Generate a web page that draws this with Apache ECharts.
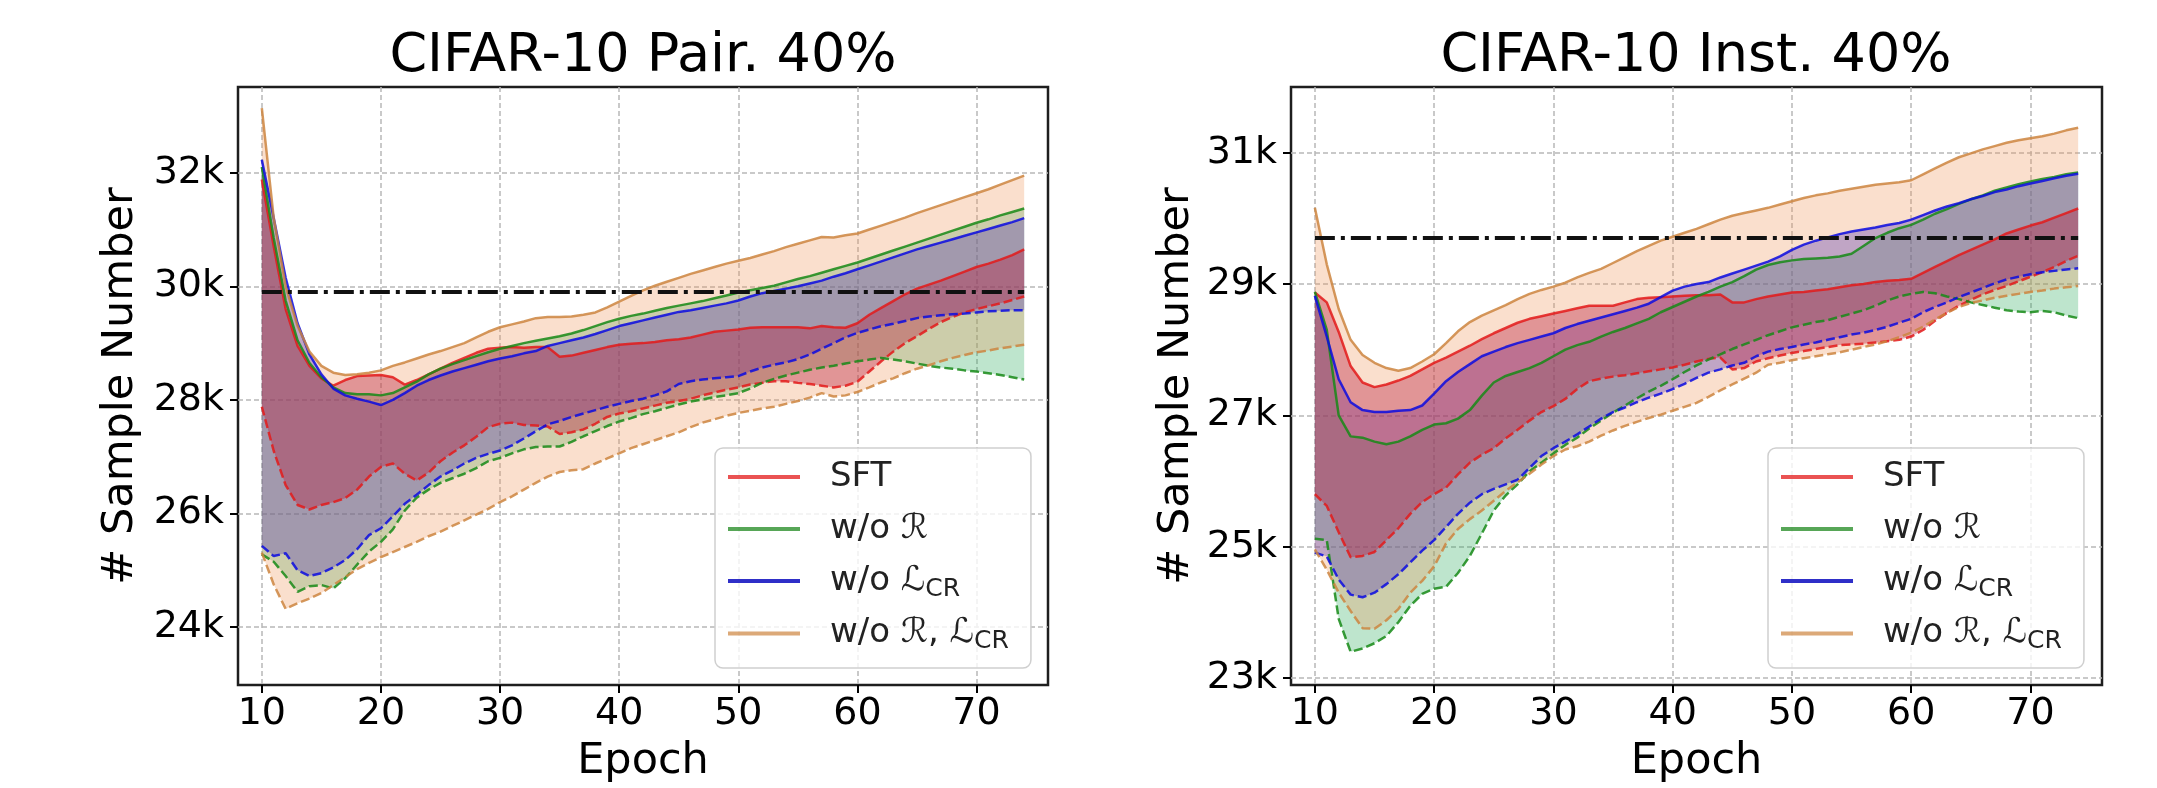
<!DOCTYPE html>
<html>
<head>
<meta charset="utf-8">
<script src="https://cdn.jsdelivr.net/npm/echarts@6/dist/echarts.min.js"></script>
<style>html,body{margin:0;padding:0;background:#fff}#c{width:2157px;height:788px}</style>
</head>
<body>
<div id="c"></div>
<script>
// ---------- data (values in thousands of samples) ----------
const EPOCHS = Array.from({length: 65}, (_, i) => 10 + i);          // 10..74
const AXIS_EPOCHS = Array.from({length: 69}, (_, i) => 8 + i);      // 8..76 (axis span)
const X_TICKS = [10, 20, 30, 40, 50, 60, 70];
const LEFT_Y_TICKS = [24, 26, 28, 30, 32];
const RIGHT_Y_TICKS = [23, 25, 27, 29, 31];
const LEFT_THRESHOLD = 29.9;
const RIGHT_THRESHOLD = 29.7;
const METHODS = ['SFT', 'w/o R', 'w/o L', 'w/o R, L'];

// CIFAR-10 Pair. 40%
const L_SFT_HI = [31.88,30.7,29.6,28.95,28.6,28.38,28.25,28.35,28.42,28.43,
  28.44,28.4,28.27,28.35,28.45,28.55,28.65,28.74,28.83,28.9,
  28.92,28.93,28.92,28.93,28.93,28.76,28.78,28.83,28.88,28.93,
  28.97,28.99,29.0,29.02,29.05,29.07,29.1,29.15,29.2,29.22,
  29.24,29.27,29.28,29.28,29.28,29.28,29.26,29.3,29.28,29.27,
  29.35,29.5,29.62,29.74,29.86,29.96,30.03,30.1,30.18,30.26,
  30.34,30.4,30.47,30.55,30.65];
const L_R_HI = [32.1,30.85,29.75,29.05,28.65,28.4,28.22,28.12,28.1,28.1,
  28.08,28.12,28.22,28.32,28.45,28.55,28.63,28.7,28.77,28.84,
  28.9,28.95,29.0,29.04,29.08,29.12,29.17,29.23,29.3,29.37,
  29.43,29.48,29.52,29.57,29.62,29.66,29.7,29.74,29.79,29.84,
  29.89,29.93,29.97,30.01,30.07,30.13,30.18,30.24,30.3,30.36,
  30.42,30.49,30.56,30.63,30.7,30.77,30.84,30.91,30.98,31.05,
  31.12,31.18,31.25,31.31,31.37];
const L_L_HI = [32.23,31.2,30.15,29.35,28.8,28.45,28.2,28.08,28.02,27.97,
  27.91,28.0,28.12,28.25,28.35,28.43,28.5,28.56,28.62,28.68,
  28.73,28.77,28.82,28.86,28.95,29.0,29.05,29.1,29.16,29.23,
  29.3,29.35,29.4,29.45,29.5,29.55,29.58,29.62,29.66,29.7,
  29.75,29.82,29.88,29.92,29.96,30.0,30.05,30.1,30.17,30.23,
  30.3,30.37,30.44,30.51,30.58,30.65,30.71,30.77,30.83,30.89,
  30.95,31.01,31.07,31.13,31.2];
const L_RL_HI = [33.14,31.2,30.0,29.3,28.85,28.6,28.48,28.44,28.45,28.48,
  28.52,28.6,28.66,28.73,28.8,28.86,28.93,29.0,29.1,29.2,
  29.28,29.33,29.38,29.44,29.46,29.46,29.47,29.5,29.54,29.63,
  29.73,29.83,29.93,30.01,30.08,30.15,30.22,30.28,30.34,30.4,
  30.45,30.5,30.56,30.62,30.69,30.75,30.81,30.87,30.86,30.9,
  30.93,31.0,31.07,31.14,31.21,31.29,31.36,31.43,31.5,31.57,
  31.64,31.71,31.79,31.87,31.95];
const L_SFT_LO = [27.88,27.1,26.5,26.15,26.07,26.15,26.2,26.27,26.42,26.65,
  26.82,26.88,26.7,26.58,26.72,26.92,27.07,27.2,27.35,27.52,
  27.58,27.6,27.56,27.55,27.53,27.4,27.43,27.48,27.58,27.7,
  27.76,27.8,27.85,27.9,27.95,27.98,28.02,28.08,28.13,28.18,
  28.22,28.27,28.3,28.33,28.33,28.3,28.28,28.25,28.22,28.25,
  28.32,28.5,28.68,28.85,29.0,29.12,29.25,29.37,29.46,29.54,
  29.6,29.65,29.7,29.76,29.82];
const L_R_LO = [25.28,25.15,24.9,24.62,24.72,24.74,24.68,24.86,25.1,25.33,
  25.5,25.72,26.05,26.28,26.42,26.54,26.62,26.7,26.8,26.92,
  26.98,27.06,27.13,27.17,27.18,27.18,27.26,27.36,27.45,27.54,
  27.62,27.68,27.75,27.8,27.86,27.92,27.97,28.01,28.05,28.08,
  28.12,28.2,28.3,28.37,28.43,28.48,28.53,28.57,28.6,28.64,
  28.68,28.71,28.74,28.71,28.68,28.64,28.6,28.57,28.55,28.52,
  28.5,28.47,28.44,28.4,28.36];
const L_L_LO = [25.43,25.25,25.3,25.0,24.9,24.95,25.05,25.18,25.37,25.62,
  25.74,25.95,26.17,26.33,26.5,26.65,26.76,26.88,26.98,27.05,
  27.11,27.2,27.32,27.45,27.57,27.63,27.7,27.76,27.82,27.88,
  27.93,27.98,28.02,28.08,28.15,28.28,28.33,28.36,28.38,28.4,
  28.42,28.5,28.57,28.62,28.66,28.72,28.8,28.9,29.0,29.1,
  29.18,29.24,29.3,29.34,29.39,29.44,29.47,29.49,29.51,29.52,
  29.54,29.56,29.57,29.58,29.58];
const L_RL_LO = [25.31,24.75,24.32,24.42,24.5,24.6,24.74,24.88,25.02,25.13,
  25.23,25.32,25.41,25.5,25.6,25.68,25.78,25.88,25.98,26.08,
  26.2,26.3,26.42,26.54,26.65,26.73,26.76,26.78,26.88,26.97,
  27.06,27.15,27.22,27.29,27.36,27.43,27.52,27.6,27.66,27.72,
  27.77,27.81,27.85,27.88,27.93,27.98,28.04,28.12,28.06,28.08,
  28.14,28.22,28.31,28.38,28.47,28.55,28.61,28.68,28.74,28.79,
  28.84,28.87,28.91,28.94,28.97];

// CIFAR-10 Inst. 40%
const R_SFT_HI = [28.87,28.72,28.27,27.75,27.5,27.43,27.47,27.53,27.6,27.7,
  27.8,27.88,27.97,28.06,28.16,28.25,28.33,28.41,28.47,28.51,
  28.55,28.59,28.63,28.67,28.67,28.67,28.72,28.77,28.79,28.8,
  28.81,28.82,28.83,28.83,28.84,28.72,28.72,28.77,28.81,28.84,
  28.87,28.88,28.9,28.92,28.95,28.98,29.0,29.03,29.05,29.06,
  29.08,29.17,29.26,29.35,29.44,29.52,29.6,29.68,29.77,29.83,
  29.89,29.94,30.01,30.08,30.15];
const R_R_HI = [28.88,28.3,27.0,26.68,26.66,26.6,26.56,26.6,26.68,26.78,
  26.86,26.88,26.95,27.08,27.3,27.5,27.6,27.66,27.72,27.8,
  27.9,28.0,28.07,28.12,28.2,28.27,28.33,28.4,28.47,28.57,
  28.65,28.73,28.81,28.88,28.96,29.03,29.12,29.22,29.29,29.33,
  29.36,29.38,29.39,29.4,29.42,29.46,29.58,29.7,29.78,29.85,
  29.9,29.98,30.07,30.14,30.22,30.29,30.35,30.42,30.47,30.52,
  30.56,30.6,30.63,30.67,30.7];
const R_L_HI = [28.82,28.2,27.55,27.2,27.08,27.05,27.05,27.07,27.08,27.15,
  27.33,27.52,27.66,27.78,27.9,27.97,28.04,28.1,28.15,28.2,
  28.25,28.33,28.39,28.44,28.49,28.54,28.59,28.64,28.7,28.8,
  28.9,28.96,29.0,29.03,29.1,29.16,29.22,29.28,29.34,29.42,
  29.52,29.6,29.66,29.71,29.76,29.8,29.83,29.86,29.9,29.93,
  29.98,30.05,30.12,30.18,30.23,30.29,30.34,30.4,30.44,30.49,
  30.53,30.57,30.61,30.65,30.68];
const R_RL_HI = [30.16,29.3,28.62,28.15,27.92,27.8,27.72,27.68,27.72,27.82,
  27.93,28.1,28.28,28.42,28.52,28.6,28.68,28.77,28.85,28.91,
  28.96,29.02,29.1,29.17,29.23,29.32,29.41,29.5,29.58,29.66,
  29.72,29.78,29.84,29.91,29.98,30.04,30.08,30.12,30.16,30.21,
  30.26,30.31,30.35,30.38,30.42,30.45,30.48,30.51,30.53,30.55,
  30.58,30.67,30.76,30.85,30.93,30.99,31.05,31.1,31.15,31.19,
  31.22,31.25,31.29,31.34,31.38];
const R_SFT_LO = [25.8,25.62,25.22,24.84,24.86,24.92,25.1,25.28,25.5,25.68,
  25.8,25.9,26.1,26.28,26.4,26.5,26.65,26.78,26.92,27.05,
  27.14,27.25,27.4,27.52,27.56,27.59,27.61,27.64,27.67,27.7,
  27.73,27.77,27.82,27.86,27.88,27.7,27.72,27.82,27.87,27.91,
  27.95,27.98,28.01,28.04,28.07,28.08,28.09,28.11,28.13,28.15,
  28.2,28.3,28.44,28.56,28.67,28.76,28.84,28.91,28.97,29.04,
  29.11,29.18,29.26,29.35,29.43];
const R_R_LO = [25.12,25.1,23.9,23.4,23.45,23.53,23.64,23.85,24.1,24.28,
  24.36,24.39,24.6,24.86,25.2,25.55,25.78,25.95,26.15,26.28,
  26.42,26.55,26.66,26.8,26.92,27.04,27.15,27.26,27.36,27.45,
  27.55,27.66,27.76,27.85,27.93,28.01,28.08,28.15,28.22,28.28,
  28.34,28.38,28.42,28.45,28.5,28.55,28.6,28.67,28.75,28.81,
  28.85,28.88,28.86,28.81,28.77,28.72,28.68,28.64,28.6,28.58,
  28.57,28.59,28.57,28.52,28.48];
const R_L_LO = [24.91,24.85,24.5,24.27,24.23,24.3,24.43,24.58,24.76,24.94,
  25.1,25.3,25.5,25.67,25.8,25.88,25.95,26.02,26.2,26.38,
  26.5,26.6,26.71,26.83,26.95,27.05,27.12,27.2,27.27,27.33,
  27.4,27.48,27.57,27.65,27.7,27.76,27.8,27.9,27.97,28.01,
  28.04,28.08,28.11,28.15,28.19,28.23,28.26,28.3,28.35,28.41,
  28.47,28.57,28.65,28.72,28.8,28.87,28.94,29.01,29.07,29.11,
  29.15,29.18,29.2,29.22,29.24];
const R_RL_LO = [24.96,24.65,24.3,24.02,23.76,23.75,23.88,24.05,24.3,24.48,
  24.7,25.05,25.27,25.42,25.55,25.7,25.85,25.98,26.11,26.25,
  26.38,26.48,26.53,26.6,26.69,26.77,26.84,26.9,26.96,27.01,
  27.07,27.13,27.19,27.28,27.38,27.47,27.56,27.65,27.77,27.8,
  27.84,27.87,27.9,27.93,27.96,28.0,28.04,28.08,28.13,28.19,
  28.26,28.35,28.46,28.56,28.65,28.71,28.75,28.79,28.82,28.85,
  28.88,28.9,28.93,28.95,28.97];

// ---------- styles ----------
const FONT = 'DejaVu Sans';
const LINE_COLORS = ['#e31a1a', '#168a16', '#0a0ae0', '#cd853f'];
const LEGEND_COLORS = ['rgba(227,26,26,0.75)', 'rgba(16,128,16,0.7)', 'rgba(10,10,190,0.85)', 'rgba(205,133,63,0.7)'];
const FILL_COLORS = ['rgba(185,30,60,0.38)', 'rgba(40,170,90,0.3)', 'rgba(0,0,221,0.32)', 'rgba(240,150,90,0.3)'];
const FILL_ORDER = [1, 2, 3, 0];

const CHARTS = [
  {title: 'CIFAR-10 Pair. 40%', left: 238, width: 810, titleX: 643, legendLeft: 715,
   yMin: 22.98, yMax: 33.51, yTicks: LEFT_Y_TICKS, threshold: LEFT_THRESHOLD, nameGap: 96,
   hi: [L_SFT_HI, L_R_HI, L_L_HI, L_RL_HI], lo: [L_SFT_LO, L_R_LO, L_L_LO, L_RL_LO]},
  {title: 'CIFAR-10 Inst. 40%', left: 1291, width: 811, titleX: 1696, legendLeft: 1768,
   yMin: 22.894, yMax: 32.0, yTicks: RIGHT_Y_TICKS, threshold: RIGHT_THRESHOLD, nameGap: 93,
   hi: [R_SFT_HI, R_R_HI, R_L_HI, R_RL_HI], lo: [R_SFT_LO, R_R_LO, R_L_LO, R_RL_LO]}
];

function align(arr) {
  return AXIS_EPOCHS.map(e => { const i = EPOCHS.indexOf(e); return i < 0 ? null : arr[i]; });
}
const isXTick = (idx, val) => X_TICKS.indexOf(+val) >= 0;
const GRID_LINE = {color: '#b8b8b8', width: 1.5, type: [5, 3]};

const LEGEND_TEXT = {
  'SFT': '{t|SFT}',
  'w/o R': '{t|w/o }{m|\u211B}',
  'w/o L': '{t|w/o }{m|\u2112}{s|CR}',
  'w/o R, L': '{t|w/o }{m|\u211B}{t|, }{m|\u2112}{s|CR}'
};

const series = [];
CHARTS.forEach((c, ci) => {
  FILL_ORDER.forEach(m => {
    const stack = 'band' + ci + '_' + m;
    series.push({type: 'line', name: 'band', xAxisIndex: ci, yAxisIndex: ci, stack,
      data: align(c.lo[m]), symbol: 'none', lineStyle: {opacity: 0}, silent: true, z: 1});
    series.push({type: 'line', name: 'band', xAxisIndex: ci, yAxisIndex: ci, stack,
      data: align(c.hi[m].map((v, i) => +(v - c.lo[m][i]).toFixed(3))), symbol: 'none',
      lineStyle: {opacity: 0}, areaStyle: {color: FILL_COLORS[m], opacity: 1}, silent: true, z: 1});
  });
  [0, 1, 2, 3].forEach(m => {
    series.push({type: 'line', name: METHODS[m], xAxisIndex: ci, yAxisIndex: ci,
      data: align(c.hi[m]), symbol: 'none', color: LINE_COLORS[m],
      lineStyle: {color: LINE_COLORS[m], width: 2.5, opacity: 0.85}, z: 3});
    series.push({type: 'line', name: METHODS[m], xAxisIndex: ci, yAxisIndex: ci,
      data: align(c.lo[m]), symbol: 'none', color: LINE_COLORS[m],
      lineStyle: {color: LINE_COLORS[m], width: 2.5, opacity: 0.85, type: [9, 4]}, z: 3});
  });
  series.push({type: 'line', name: 'threshold', xAxisIndex: ci, yAxisIndex: ci,
    data: AXIS_EPOCHS.map(e => (e >= EPOCHS[0] && e <= EPOCHS[EPOCHS.length - 1]) ? c.threshold : null),
    symbol: 'none', lineStyle: {color: '#111', width: 4, type: [20, 6, 4, 6]}, z: 4, silent: true});
});

const option = {
  animation: false,
  backgroundColor: '#fff',
  title: CHARTS.map(c => ({text: c.title, left: c.titleX, top: 30, textAlign: 'center', padding: 0,
    textStyle: {fontFamily: FONT, fontSize: 54, fontWeight: 'normal', color: '#000'}})),
  grid: CHARTS.map(c => ({left: c.left, top: 87, width: c.width, height: 600, show: true,
    borderColor: '#1e1e1e', borderWidth: 2.5, backgroundColor: 'transparent', containLabel: false})),
  xAxis: CHARTS.map((c, ci) => ({type: 'category', gridIndex: ci, data: AXIS_EPOCHS.map(String), boundaryGap: false,
    axisLine: {show: false},
    axisTick: {show: true, interval: isXTick, length: 8, lineStyle: {color: '#000', width: 2}},
    axisLabel: {interval: isXTick, fontFamily: FONT, fontSize: 38, color: '#000', margin: 10},
    splitLine: {show: true, interval: isXTick, lineStyle: GRID_LINE},
    name: 'Epoch', nameLocation: 'middle', nameGap: 55,
    nameTextStyle: {fontFamily: FONT, fontSize: 43, color: '#000', lineHeight: 43}})),
  yAxis: CHARTS.map((c, ci) => ({type: 'value', gridIndex: ci, min: c.yMin, max: c.yMax,
    axisLine: {show: false},
    axisTick: {show: true, customValues: c.yTicks, length: 8, lineStyle: {color: '#000', width: 2}},
    axisLabel: {customValues: c.yTicks, formatter: v => v + 'k', fontFamily: FONT, fontSize: 38, color: '#000', margin: 14},
    splitLine: {show: true, lineStyle: GRID_LINE},
    name: '# Sample Number', nameLocation: 'middle', nameGap: c.nameGap,
    nameTextStyle: {fontFamily: FONT, fontSize: 43, color: '#000', lineHeight: 43}})),
  legend: CHARTS.map(c => ({
    left: c.legendLeft, top: 448, orient: 'vertical', selectedMode: false,
    data: METHODS.map((n, m) => ({name: n, itemStyle: {color: LEGEND_COLORS[m]}})),
    icon: 'rect', itemWidth: 72, itemHeight: 4, itemGap: 12,
    padding: [9, 22, 14, 13], backgroundColor: 'rgba(255,255,255,0.8)',
    borderColor: '#cfcfcf', borderWidth: 1.5, borderRadius: 8,
    formatter: name => LEGEND_TEXT[name],
    textStyle: {fontFamily: FONT, fontSize: 34, color: '#222', lineHeight: 40, height: 40, padding: [0, 0, 0, 25],
      rich: {
        t: {fontFamily: FONT, fontSize: 34, lineHeight: 40, height: 40, color: '#222'},
        m: {fontFamily: FONT, fontSize: 34, lineHeight: 40, height: 40, color: '#222'},
        s: {fontFamily: FONT, fontSize: 25, lineHeight: 24, height: 24, verticalAlign: 'bottom', color: '#222'}
      }}
  })),
  series
};

const chart = echarts.init(document.getElementById('c'), null, {renderer: 'canvas'});
chart.setOption(option);
</script>
</body>
</html>
